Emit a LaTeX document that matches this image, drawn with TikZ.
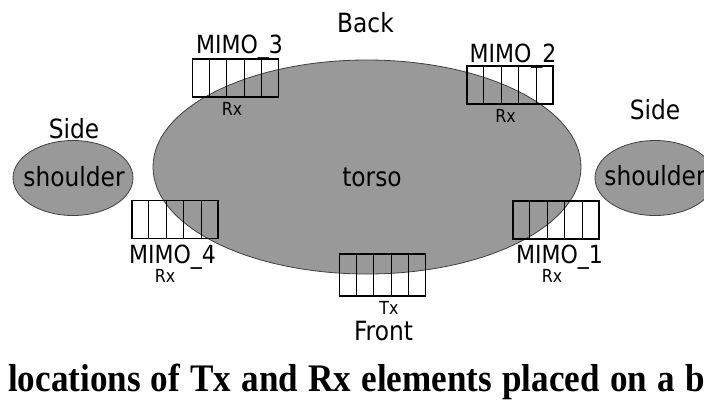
\documentclass[tikz,border=0pt]{standalone}
\usepackage{fontspec}
\usepackage{tikz}
\usetikzlibrary{shapes.geometric,calc}
\setmainfont{DejaVu Sans}[FakeStretch=0.88]
\newfontfamily\captionfont{Liberation Serif}[FakeStretch=0.9]
\tikzset{
    body-part/.style = {ellipse, draw=black!75, fill=black!40, line width=0.8pt, inner sep=0pt},
    antenna-array/.style = {draw=black, line width=1.8pt, rectangle, minimum width=86pt, minimum height=38pt, inner sep=0pt},
    cell-line/.style = {draw=black, line width=0.8pt},
    big-label/.style = {anchor=base, inner sep=0pt, font=\fontsize{26.5}{30}\selectfont},
    array-name/.style = {anchor=base, inner sep=0pt, font=\fontsize{25}{28}\selectfont},
    array-role/.style = {anchor=base, inner sep=0pt, font=\fontsize{18}{21}\selectfont},
}

\begin{document}
\begin{tikzpicture}[x=1pt, y=-1pt]
\path[use as bounding box, clip] (0,0) rectangle (704,416);
\fill[white] (0,0) rectangle (704,416);

% body outline
\node[body-part, minimum width=428pt, minimum height=214pt] (torso) at (367,167) {};
\node[body-part, minimum width=120pt, minimum height=75pt] (shoulder-left) at (73,178) {};
\node[body-part, minimum width=120pt, minimum height=75pt] (shoulder-right) at (655,178) {};

% antenna arrays
\node[antenna-array] (mimo3) at (235.5,78) {};
\node[antenna-array] (mimo2) at (510,85) {};
\node[antenna-array] (mimo4) at (175,219.5) {};
\node[antenna-array] (mimo1) at (556,220) {};
\node[antenna-array, minimum height=42pt] (tx) at (382.5,275) {};
\foreach \arr in {mimo1,mimo2,mimo3,mimo4,tx}
  \foreach \k in {1,...,4}
    \draw[cell-line] ($(\arr.north west)!\k/5!(\arr.north east)$) -- ($(\arr.south west)!\k/5!(\arr.south east)$);

% texts
\node[big-label] (back) at (365.5,32) {Back};
\node[big-label] (front) at (383.5,340) {Front};
\node[big-label] (side-left) at (74,138) {Side};
\node[big-label] (side-right) at (655,119) {Side};
\node[big-label] (shoulder-left-text) at (74,186) {shoulder};
\node[big-label] (shoulder-right-text) at (655,185) {shoulder};
\node[big-label] (torso-text) at (372,186) {torso};

\node[array-name] (mimo3-name) at (239.5,53) {MIMO\_3};
\node[array-role] (mimo3-role) at (232,115) {Rx};
\node[array-name] (mimo2-name) at (513,62) {MIMO\_2};
\node[array-role] (mimo2-role) at (505.5,122) {Rx};
\node[array-name] (mimo4-name) at (172.5,263) {MIMO\_4};
\node[array-role] (mimo4-role) at (165,282) {Rx};
\node[array-name] (mimo1-name) at (559.5,263) {MIMO\_1};
\node[array-role] (mimo1-role) at (552,282) {Rx};
\node[array-role] (tx-role) at (389,314) {Tx};

% caption line, cut at the right edge
\node[anchor=base west, inner sep=0pt, font=\captionfont\bfseries\fontsize{39}{44}\selectfont] (caption) at (8,391)
  {\makebox[714pt][s]{locations of Tx and Rx elements placed on a bo}};
\end{tikzpicture}
\end{document}
